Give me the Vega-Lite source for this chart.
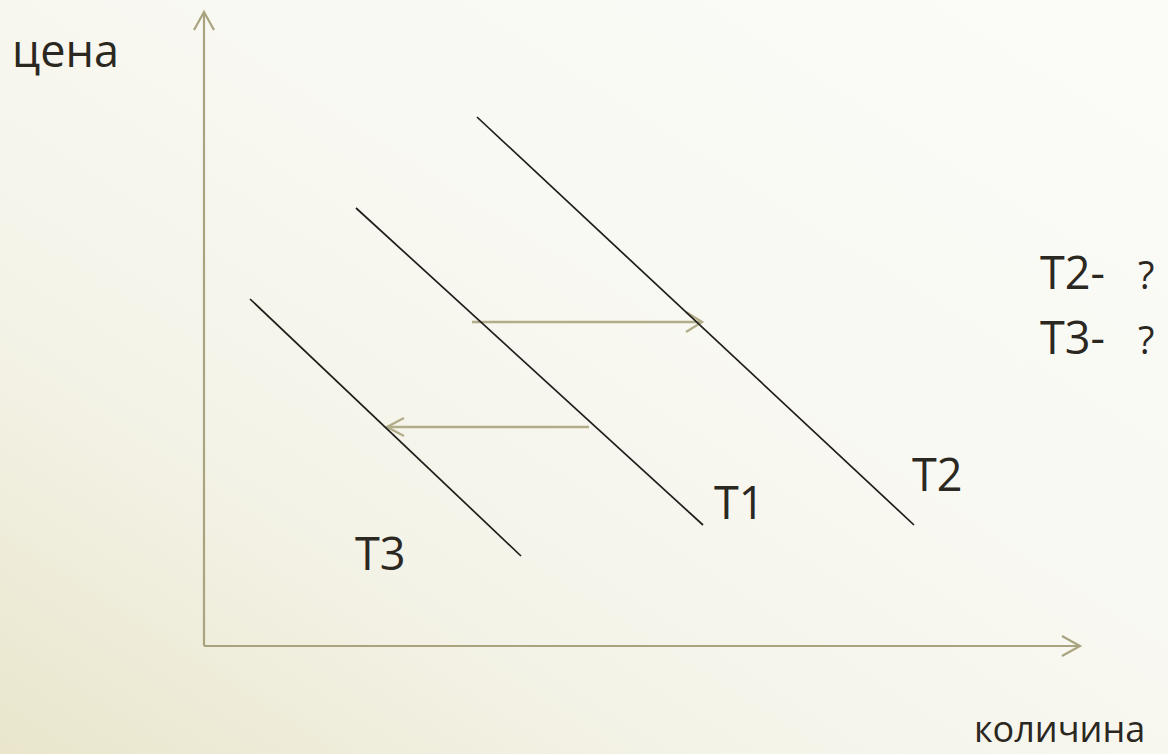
{
  "$schema": "https://vega.github.io/schema/vega-lite/v6.json",
  "width": 1168,
  "height": 754,
  "autosize": {"type": "none"},
  "padding": 0,
  "background": "#FAFAF5",
  "config": {"view": {"stroke": null}},
  "datasets": {
    "bg": [{"q1": -204, "q2": 964, "p1": -108, "p2": 646}],
    "lines": [
      {"id": "yaxis", "kind": "axis", "q": 0, "p": 0, "o": 1},
      {"id": "yaxis", "kind": "axis", "q": 0, "p": 634, "o": 2},
      {"id": "yhead", "kind": "axis", "q": -10, "p": 616, "o": 1},
      {"id": "yhead", "kind": "axis", "q": 0, "p": 634, "o": 2},
      {"id": "yhead", "kind": "axis", "q": 10, "p": 616, "o": 3},
      {"id": "xaxis", "kind": "axis", "q": 0, "p": 0, "o": 1},
      {"id": "xaxis", "kind": "axis", "q": 876, "p": 0, "o": 2},
      {"id": "xhead", "kind": "axis", "q": 858, "p": 10, "o": 1},
      {"id": "xhead", "kind": "axis", "q": 876, "p": 0, "o": 2},
      {"id": "xhead", "kind": "axis", "q": 858, "p": -10, "o": 3},
      {"id": "T2", "kind": "demand", "q": 273, "p": 529, "o": 1},
      {"id": "T2", "kind": "demand", "q": 710, "p": 121, "o": 2},
      {"id": "T1", "kind": "demand", "q": 152, "p": 438, "o": 1},
      {"id": "T1", "kind": "demand", "q": 499, "p": 121, "o": 2},
      {"id": "T3", "kind": "demand", "q": 46, "p": 347, "o": 1},
      {"id": "T3", "kind": "demand", "q": 317, "p": 90, "o": 2},
      {"id": "shiftA", "kind": "shift", "q": 268, "p": 324, "o": 1},
      {"id": "shiftA", "kind": "shift", "q": 498, "p": 324, "o": 2},
      {"id": "headA", "kind": "shift", "q": 482, "p": 334, "o": 1},
      {"id": "headA", "kind": "shift", "q": 498, "p": 324, "o": 2},
      {"id": "headA", "kind": "shift", "q": 482, "p": 314, "o": 3},
      {"id": "shiftB", "kind": "shift", "q": 385, "p": 219, "o": 1},
      {"id": "shiftB", "kind": "shift", "q": 183, "p": 219, "o": 2},
      {"id": "headB", "kind": "shift", "q": 200, "p": 228, "o": 1},
      {"id": "headB", "kind": "shift", "q": 183, "p": 219, "o": 2},
      {"id": "headB", "kind": "shift", "q": 200, "p": 210, "o": 3}
    ],
    "labels": [
      {"text": "цена", "kind": "big", "q": -192, "p": 579},
      {"text": "T1", "kind": "big", "q": 510, "p": 127},
      {"text": "T2", "kind": "big", "q": 708, "p": 155},
      {"text": "T3", "kind": "big", "q": 151, "p": 76},
      {"text": "T2-", "kind": "big", "q": 836, "p": 357},
      {"text": "T3-", "kind": "big", "q": 836, "p": 292},
      {"text": "?", "kind": "small", "q": 934, "p": 357},
      {"text": "?", "kind": "small", "q": 934, "p": 292},
      {"text": "количина", "kind": "bottom", "q": 770, "p": -96}
    ]
  },
  "layer": [
    {
      "data": {"name": "bg"},
      "mark": {
        "type": "rect",
        "fill": {
          "gradient": "linear",
          "x1": 0, "y1": 1, "x2": 1, "y2": 0,
          "stops": [
            {"offset": 0, "color": "#E9E6CC"},
            {"offset": 0.3, "color": "#F4F3E8"},
            {"offset": 0.6, "color": "#F9F9F3"},
            {"offset": 1, "color": "#FBFBF8"}
          ]
        }
      },
      "encoding": {
        "x": {"field": "q1", "type": "quantitative", "scale": {"domain": [-204, 964], "nice": false, "zero": false}, "axis": null},
        "x2": {"field": "q2"},
        "y": {"field": "p1", "type": "quantitative", "scale": {"domain": [-108, 646], "nice": false, "zero": false}, "axis": null},
        "y2": {"field": "p2"}
      }
    },
    {
      "data": {"name": "lines"},
      "transform": [{"filter": "datum.kind === 'axis'"}],
      "mark": {"type": "line", "color": "#A9A47F", "strokeWidth": 2.2, "strokeCap": "butt", "strokeJoin": "miter"},
      "encoding": {
        "x": {"field": "q", "type": "quantitative"},
        "y": {"field": "p", "type": "quantitative"},
        "detail": {"field": "id"},
        "order": {"field": "o"}
      }
    },
    {
      "data": {"name": "lines"},
      "transform": [{"filter": "datum.kind === 'shift'"}],
      "mark": {"type": "line", "color": "#B2AD89", "strokeWidth": 2.4, "strokeCap": "butt", "strokeJoin": "miter"},
      "encoding": {
        "x": {"field": "q", "type": "quantitative"},
        "y": {"field": "p", "type": "quantitative"},
        "detail": {"field": "id"},
        "order": {"field": "o"}
      }
    },
    {
      "data": {"name": "lines"},
      "transform": [{"filter": "datum.kind === 'demand'"}],
      "mark": {"type": "line", "color": "#1F1D1A", "strokeWidth": 1.7},
      "encoding": {
        "x": {"field": "q", "type": "quantitative"},
        "y": {"field": "p", "type": "quantitative"},
        "detail": {"field": "id"},
        "order": {"field": "o"}
      }
    },
    {
      "data": {"name": "labels"},
      "transform": [{"filter": "datum.kind === 'big'"}],
      "mark": {"type": "text", "font": "Open Sans", "fontSize": 45, "align": "left", "baseline": "alphabetic", "color": "#2B2721"},
      "encoding": {
        "x": {"field": "q", "type": "quantitative"},
        "y": {"field": "p", "type": "quantitative"},
        "text": {"field": "text"}
      }
    },
    {
      "data": {"name": "labels"},
      "transform": [{"filter": "datum.kind === 'small'"}],
      "mark": {"type": "text", "font": "Open Sans", "fontSize": 38, "align": "left", "baseline": "alphabetic", "color": "#2B2721"},
      "encoding": {
        "x": {"field": "q", "type": "quantitative"},
        "y": {"field": "p", "type": "quantitative"},
        "text": {"field": "text"}
      }
    },
    {
      "data": {"name": "labels"},
      "transform": [{"filter": "datum.kind === 'bottom'"}],
      "mark": {"type": "text", "font": "Open Sans", "fontSize": 36, "align": "left", "baseline": "alphabetic", "color": "#2B2721"},
      "encoding": {
        "x": {"field": "q", "type": "quantitative"},
        "y": {"field": "p", "type": "quantitative"},
        "text": {"field": "text"}
      }
    }
  ]
}
